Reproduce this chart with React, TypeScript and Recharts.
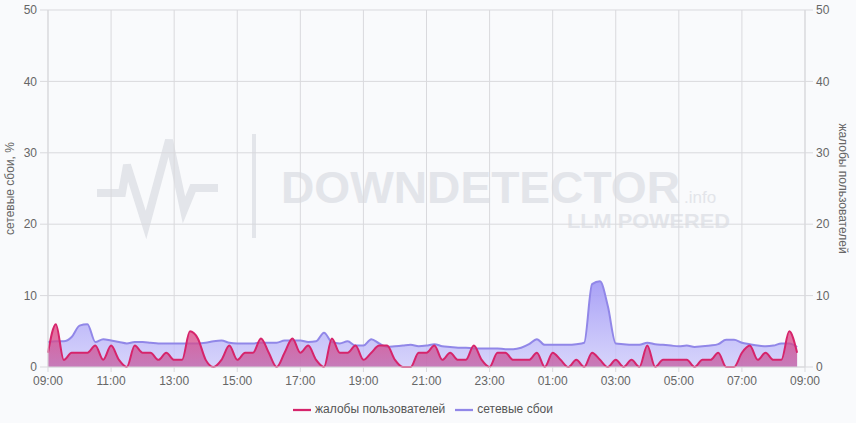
import React from 'react';
import { ComposedChart, Area, XAxis, YAxis, CartesianGrid, Legend } from 'recharts';

// 15-minute samples starting at 09:00
const complaints = [
  2, 6, 1, 2, 2, 2, 3, 1, 3, 1,
  0, 3, 2, 2, 1, 2, 1, 1, 5, 4,
  1, 0, 1, 3, 1, 2, 2, 4, 2, 0,
  2, 4, 2, 3, 1, 0, 4, 2, 2, 3,
  1, 2, 3, 3, 1, 0, 0, 2, 2, 3,
  1, 2, 1, 1, 3, 1, 0, 2, 2, 1,
  1, 1, 2, 0, 2, 1, 0, 1, 0, 2,
  1, 0, 1, 0, 1, 0, 3, 0, 1, 1,
  1, 1, 0, 1, 1, 2, 0, 0, 2, 3,
  1, 2, 1, 1, 5, 2,
];

const networkFailures = [
  3.5, 3.6, 3.6, 4.2, 5.8, 6.0, 3.5, 3.9, 3.7, 3.5,
  3.3, 3.5, 3.5, 3.4, 3.3, 3.3, 3.3, 3.3, 3.3, 3.3,
  3.4, 3.6, 3.7, 3.4, 3.3, 3.3, 3.3, 3.4, 3.4, 3.4,
  3.7, 3.7, 3.7, 3.5, 3.6, 4.8, 3.5, 3.3, 3.6, 3.0,
  3.0, 3.9, 3.3, 2.8, 2.9, 3.0, 3.1, 2.9, 3.0, 3.2,
  2.9, 2.8, 2.7, 2.7, 2.6, 2.6, 2.6, 2.6, 2.5, 2.5,
  2.7, 3.2, 3.9, 3.1, 3.1, 3.1, 3.1, 3.2, 3.4, 11.6,
  12.0, 8.5, 3.3, 3.2, 3.1, 3.1, 3.4, 3.2, 3.1, 3.0,
  2.9, 3.0, 2.8, 2.9, 3.0, 3.2, 3.8, 3.8, 3.4, 3.2,
  3.0, 2.9, 3.0, 3.3, 3.3, 2.8,
];

const xTickLabels = ['09:00', '11:00', '13:00', '15:00', '17:00', '19:00', '21:00', '23:00', '01:00', '03:00', '05:00', '07:00', '09:00'];
const yTicks = [0, 10, 20, 30, 40, 50];

const STEP_MIN = 15;
const data = complaints.map((c, i) => ({ t: i * STEP_MIN, complaints: c, failures: networkFailures[i] }));
const xTicks = xTickLabels.map((_, i) => i * 120);

const GRID = '#d9d9dd';
const WM = '#e3e5ea';

function Watermark() {
  return (
    <svg width={856} height={423} style={{ position: 'absolute', left: 0, top: 0 }}>
      <polyline
        points="97,193 122,193 127,165 146,225 169,140 184,210 193,188 218,188"
        fill="none"
        stroke={WM}
        strokeWidth={8}
      />
      <rect x={252} y={134} width={4} height={104} fill={WM} />
      <text x={281} y={203} fill={WM} fontSize={44} fontWeight="bold" textLength={399} lengthAdjust="spacingAndGlyphs"
        fontFamily="'Liberation Sans', Arial, sans-serif">DOWNDETECTOR</text>
      <text x={684} y={203} fill={WM} fontSize={17} fontFamily="'Liberation Sans', Arial, sans-serif">.info</text>
      <text x={567} y={228} fill={WM} fontSize={20} fontWeight="bold" textLength={163} lengthAdjust="spacingAndGlyphs"
        fontFamily="'Liberation Sans', Arial, sans-serif">LLM POWERED</text>
    </svg>
  );
}

export default function App() {
  return (
    <div style={{ position: 'absolute', left: 0, top: 0, width: 856, height: 423, background: '#f9fafc',
      fontFamily: "'Liberation Sans', Arial, sans-serif", fontSize: 12 }}>
      <Watermark />
      <ComposedChart width={856} height={423} data={data} margin={{ top: 10, right: 0, left: 0, bottom: 0 }}>
        <defs>
          <linearGradient id="gradFail" x1="0" y1="0" x2="0" y2="1">
            <stop offset="0%" stopColor="#a097f5" stopOpacity={0.9} />
            <stop offset="100%" stopColor="#cbc7fb" stopOpacity={0.75} />
          </linearGradient>
          <linearGradient id="gradComp" x1="0" y1="0" x2="0" y2="1">
            <stop offset="0%" stopColor="#e4457f" stopOpacity={0.8} />
            <stop offset="100%" stopColor="#c0559d" stopOpacity={0.7} />
          </linearGradient>
        </defs>
        <CartesianGrid stroke={GRID} yAxisId="left" />
        <XAxis
          dataKey="t"
          type="number"
          domain={[0, 1440]}
          ticks={xTicks}
          tickFormatter={(v: number) => xTickLabels[Math.round(v / 120)]}
          height={30}
          tickSize={5}
          tickMargin={4}
          stroke={GRID}
          tick={{ fill: '#666' }}
        />
        <YAxis
          yAxisId="left"
          domain={[0, 50]}
          ticks={yTicks}
          width={48}
          tickSize={8}
          tickMargin={3}
          stroke={GRID}
          tick={{ fill: '#666' }}
          label={{ value: 'сетевые сбои, %', angle: -90, position: 'insideLeft', offset: 10, fill: '#666', style: { textAnchor: 'middle' } }}
        />
        <YAxis
          yAxisId="right"
          orientation="right"
          domain={[0, 50]}
          ticks={yTicks}
          width={51}
          tickSize={8}
          tickMargin={3}
          stroke={GRID}
          tick={{ fill: '#666' }}
          label={{ value: 'жалобы пользователей', angle: 90, position: 'insideRight', offset: 13, fill: '#666', style: { textAnchor: 'middle' } }}
        />
        <Legend
          verticalAlign="bottom"
          height={26}
          iconType="plainline"
          iconSize={18}
          wrapperStyle={{ top: 401 }}
          formatter={(value: string) => <span style={{ color: '#555' }}>{value}</span>}
        />
        <Area
          yAxisId="left"
          type="monotone"
          dataKey="failures"
          name="сетевые сбои"
          stroke="#9187e8"
          strokeWidth={2}
          fill="url(#gradFail)"
          fillOpacity={1}
          isAnimationActive={false}
          legendType="plainline"
        />
        <Area
          yAxisId="right"
          type="monotone"
          dataKey="complaints"
          name="жалобы пользователей"
          stroke="#d6246b"
          strokeWidth={2}
          fill="url(#gradComp)"
          fillOpacity={1}
          isAnimationActive={false}
          legendType="plainline"
        />
      </ComposedChart>
    </div>
  );
}
